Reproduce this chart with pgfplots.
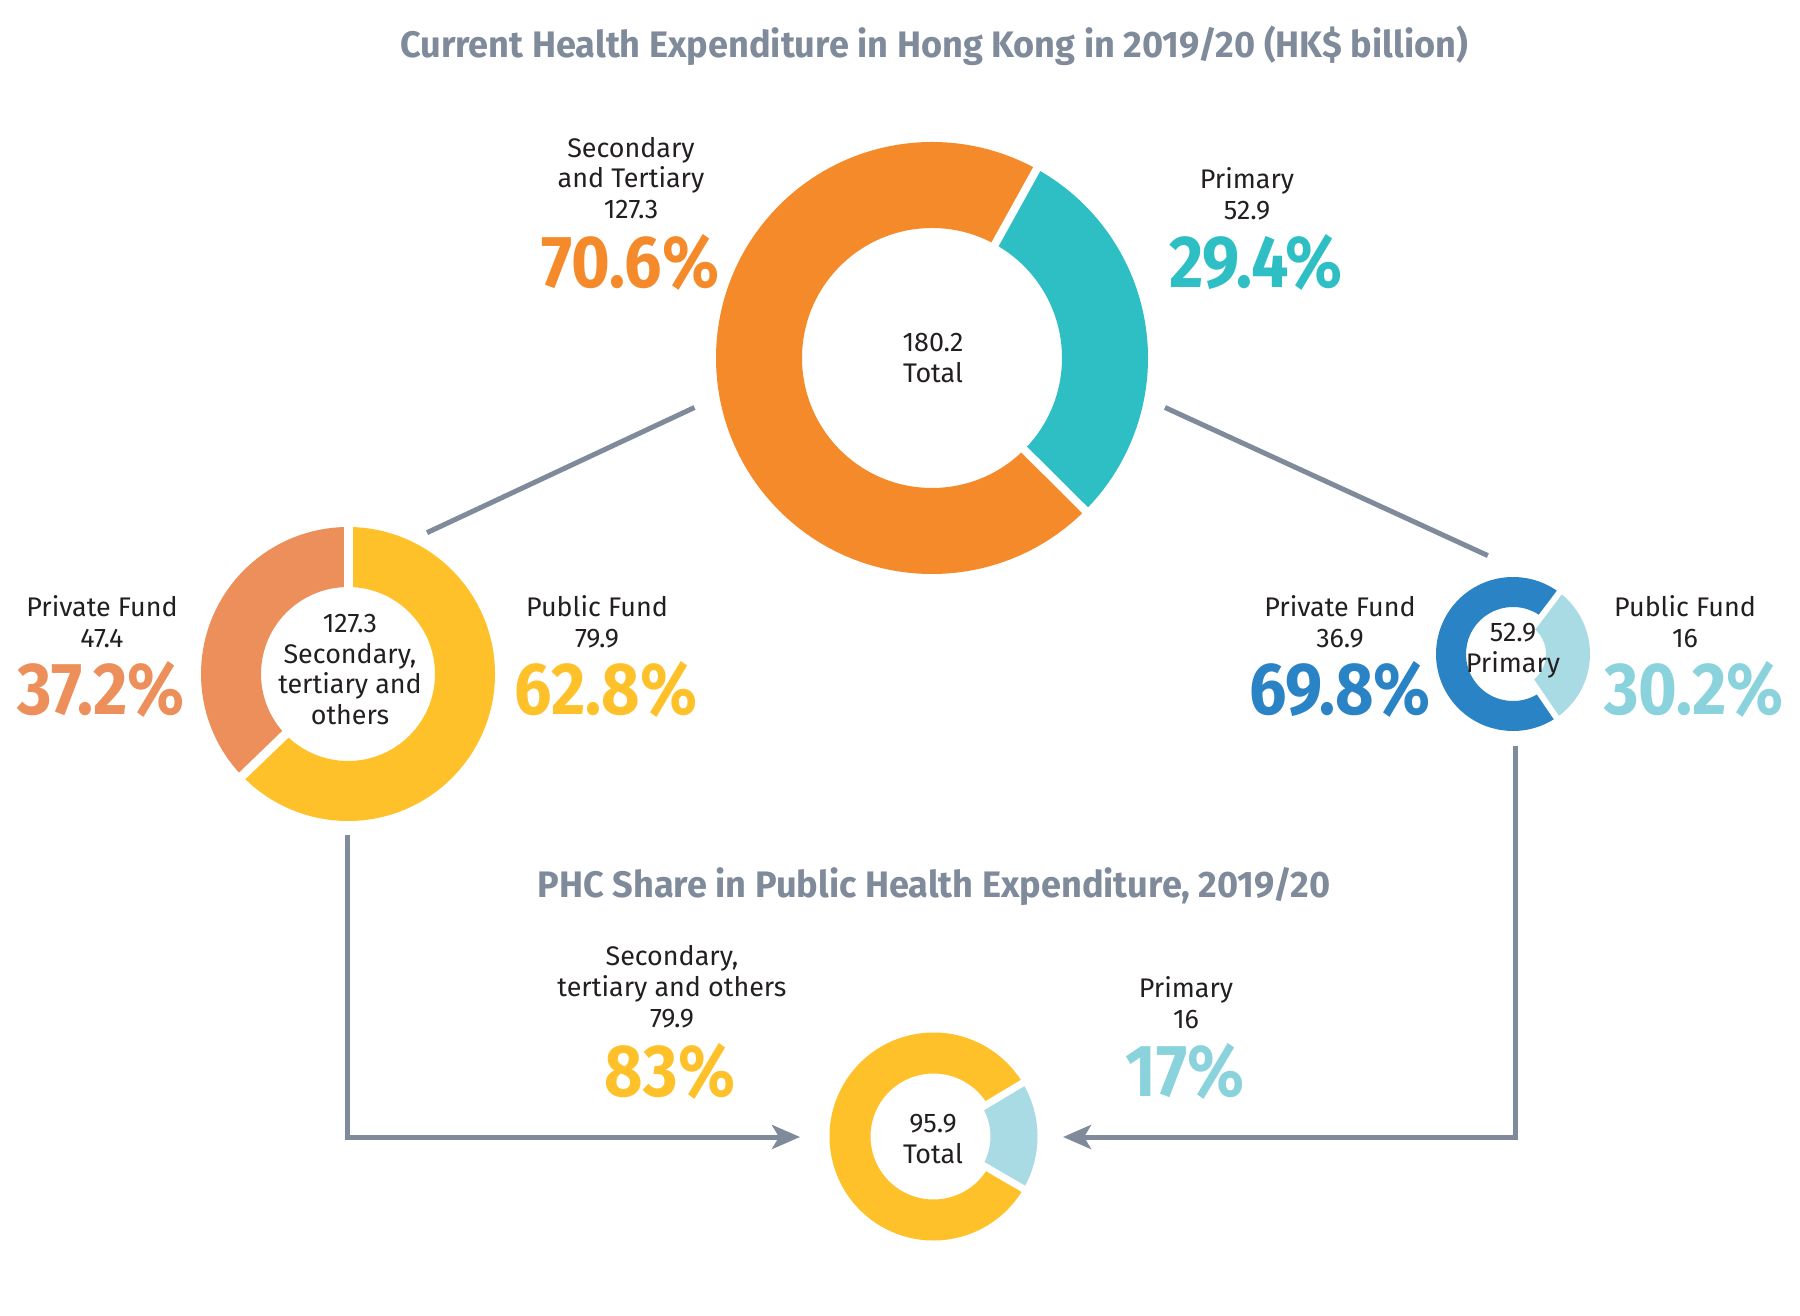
\documentclass[border=0pt]{standalone}
\usepackage{pgfplots}
\pgfplotsset{compat=1.18}
\usepackage{fontspec}
\setmainfont{Fira Sans}
\newfontfamily\pctfont[FakeStretch=0.9]{Fira Sans}
\newfontfamily\ttlfont[FakeStretch=0.98]{Fira Sans}
\usetikzlibrary{arrows.meta}

\definecolor{cOrange}{HTML}{F58A2A}
\definecolor{cTeal}{HTML}{2EBFC4}
\definecolor{cSalmon}{HTML}{EC8F5A}
\definecolor{cYellow}{HTML}{FEC129}
\definecolor{cBlue}{HTML}{2983C5}
\definecolor{cLight}{HTML}{A9DBE4}
\definecolor{cLightTxt}{HTML}{8AD2DC}
\definecolor{cGray}{HTML}{7F8A9A}
\definecolor{cText}{HTML}{231F20}

% ring segment: cx, cy, mid radius, ring width, start angle, percent, colour (drawn clockwise)
\newcommand{\donutseg}[7]{%
  \draw[#7, line width=#4bp] (axis cs:#1,#2) ++({#5}:#3bp)
    arc[start angle={#5}, delta angle={-3.6*#6}, radius=#3bp];}
% white gap between segments
\newcommand{\donutgap}[5]{%
  \draw[white, line width=#5bp] (axis cs:#1,#2) -- ++({#3}:#4bp);}

\tikzset{
  lbl/.style={font=\fontsize{27}{31}\selectfont, text=cText, align=center, inner sep=0pt},
  pct/.style={font=\pctfont\bfseries\fontsize{74}{74}\selectfont, inner sep=0pt},
  ttl/.style={font=\ttlfont\bfseries\fontsize{37}{37}\selectfont, text=cGray, inner sep=0pt},
}

\begin{document}
\begin{tikzpicture}
\begin{axis}[
  x=1bp, y=1bp,
  xmin=0, xmax=1800, ymin=0, ymax=1315,
  scale only axis, hide axis, clip=false,
]
\path (axis cs:0,0) rectangle (axis cs:1800,1315);

% connectors
\addplot[cGray, line width=5bp, no marks] coordinates {(694.5,907.5) (427,782.3)};
\addplot[cGray, line width=5bp, no marks] coordinates {(1165,907.5) (1487.8,759.4)};
\addplot[cGray, line width=5bp, no marks, -{Stealth[length=28bp, width=24bp, inset=7bp]}]
  coordinates {(347.8,480.4) (347.8,178) (800,178)};
\addplot[cGray, line width=5bp, no marks, -{Stealth[length=28bp, width=24bp, inset=7bp]}]
  coordinates {(1515.4,569) (1515.4,178) (1063,178)};

% big donut: total 180.2
\donutseg{932}{957}{173}{86}{61+3.6*70.6}{70.6}{cOrange}
\donutseg{932}{957}{173}{86}{61}{29.4}{cTeal}
\donutgap{932}{957}{61}{225}{8}
\donutgap{932}{957}{61-3.6*29.4}{225}{8}

% left donut: 127.3
\donutseg{348}{641}{117}{60}{90+3.6*37.2}{37.2}{cSalmon}
\donutseg{348}{641}{117}{60}{90}{62.8}{cYellow}
\donutgap{348}{641}{90}{155}{9}
\donutgap{348}{641}{90-3.6*62.8}{155}{9}

% right donut: 52.9
\donutseg{1513}{661}{62}{30}{53+3.6*69.8}{69.8}{cBlue}
\donutseg{1513}{661}{55}{44}{53}{30.2}{cLight}
\donutgap{1513}{661}{53}{85}{6}
\donutgap{1513}{661}{53-3.6*30.2}{85}{6}

% bottom donut: 95.9
\donutseg{933.5}{178.5}{83.5}{41}{31+3.6*83}{83}{cYellow}
\donutseg{933.5}{178.5}{80.5}{47}{31}{17}{cLight}
\donutgap{933.5}{178.5}{31}{112}{7}
\donutgap{933.5}{178.5}{31-3.6*17}{112}{7}

% titles
\node[ttl] at (axis cs:934,1269) {Current Health Expenditure in Hong Kong in 2019/20 (HK\$ billion)};
\node[ttl] at (axis cs:934,428) {PHC Share in Public Health Expenditure, 2019/20};

% big donut labels
\node[lbl] at (axis cs:631,1137) {Secondary\\and Tertiary\\127.3};
\node[pct, text=cOrange] at (axis cs:630,1053) {70.6\%};
\node[lbl] at (axis cs:1247,1121.5) {Primary\\52.9};
\node[pct, text=cTeal] at (axis cs:1256,1053) {29.4\%};
\node[lbl] at (axis cs:933,957) {180.2\\Total};

% left donut labels
\node[lbl] at (axis cs:102,693.5) {Private Fund\\47.4};
\node[pct, text=cSalmon] at (axis cs:101,626) {37.2\%};
\node[lbl] at (axis cs:350,645.5) {127.3\\Secondary,\\tertiary and\\others};
\node[lbl] at (axis cs:597,693.5) {Public Fund\\79.9};
\node[pct, text=cYellow] at (axis cs:606,626) {62.8\%};

% right donut labels
\node[lbl] at (axis cs:1340,693.5) {Private Fund\\36.9};
\node[pct, text=cBlue] at (axis cs:1340,626) {69.8\%};
\node[lbl] at (axis cs:1513,664.5) {52.9\\Primary};
\node[lbl] at (axis cs:1685,693.5) {Public Fund\\16};
\node[pct, text=cLightTxt] at (axis cs:1694,626) {30.2\%};

% bottom donut labels
\node[lbl] at (axis cs:672,328) {Secondary,\\tertiary and others\\79.9};
\node[pct, text=cYellow] at (axis cs:670,244) {83\%};
\node[lbl] at (axis cs:1186,312.5) {Primary\\16};
\node[pct, text=cLightTxt] at (axis cs:1185,244) {17\%};
\node[lbl] at (axis cs:933,176) {95.9\\Total};
\end{axis}
\end{tikzpicture}
\end{document}
